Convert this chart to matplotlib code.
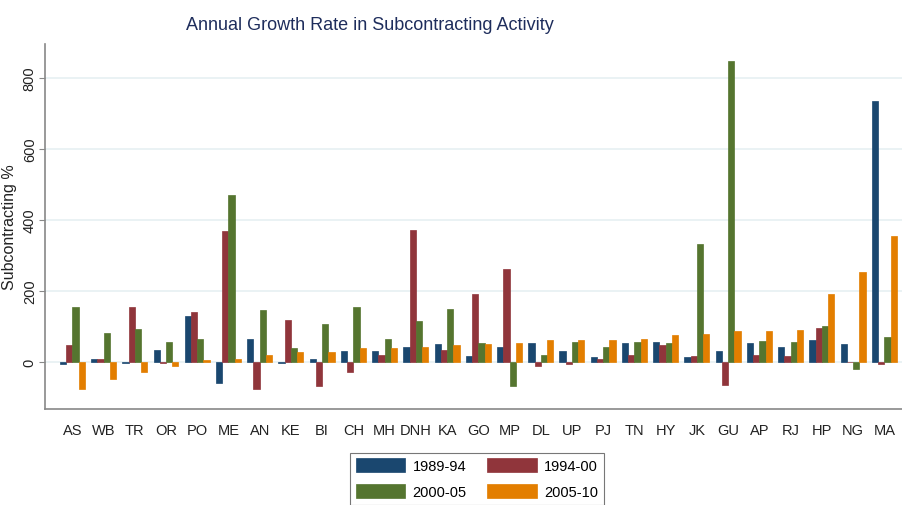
import numpy as np
import matplotlib.pyplot as plt

plt.rcParams['font.family'] = ['Liberation Sans Narrow', 'Liberation Sans', 'DejaVu Sans']

states = ["AS", "WB", "TR", "OR", "PO", "ME", "AN", "KE", "BI", "CH", "MH", "DNH", "KA",
          "GO", "MP", "DL", "UP", "PJ", "TN", "HY", "JK", "GU", "AP", "RJ", "HP", "NG", "MA"]

p1989_94 = [-5, 7, -3, 35, 130, -59, 64, -3, 7, 32, 32, 42, 50,
            17, 42, 54, 32, 14, 54, 57, 15, 31, 54, 43, 61, 51, 735]
p1994_00 = [47, 8, 156, -4, 141, 369, -75, 117, -67, -28, 20, 372, 35,
            192, 262, -11, -5, 8, 20, 49, 16, -64, 20, 17, 96, 0, -5]
p2000_05 = [154, 81, 93, 57, 66, 470, 146, 39, 108, 154, 65, 115, 149,
            52, -67, 20, 57, 41, 55, 54, 333, 848, 60, 55, 100, -19, 71]
p2005_10 = [-77, -47, -29, -12, 6, 8, 19, 27, 28, 39, 40, 42, 47,
            50, 54, 61, 62, 61, 66, 75, 79, 86, 88, 91, 190, 252, 355]

series = [("1989-94", p1989_94, "#1a476f"),
          ("1994-00", p1994_00, "#90353b"),
          ("2000-05", p2000_05, "#55752f"),
          ("2005-10", p2005_10, "#e37e00")]

fig = plt.figure(figsize=(9.03, 5.06), dpi=100)
ax = fig.add_axes([0.050, 0.190, 0.950, 0.721])

x = np.arange(len(states))
w = 0.2
bars = []
for i, (name, vals, col) in enumerate(series):
    b = ax.bar(x + (i - 1.5) * w, vals, width=w, color=col, label=name,
               edgecolor=col, linewidth=0.5, zorder=3)
    bars.append(b)

ax.set_xlim(-0.87, 26.6)
ax.set_ylim(-132, 895)
ax.set_yticks([0, 200, 400, 600, 800])
ax.set_yticklabels(["0", "200", "400", "600", "800"], rotation=90, va='center',
                   fontsize=10.5, color='#222222')
ax.set_xticks(x)
ax.set_xticklabels(states, fontsize=10.5, color='#222222')
ax.tick_params(axis='x', length=0, pad=10)
ax.tick_params(axis='y', length=4, color='#888888', pad=2)
ax.yaxis.grid(True, color='#e6f0f2', linewidth=1.2, zorder=0)
ax.set_axisbelow(True)

for s in ['top', 'right']:
    ax.spines[s].set_visible(False)
for s in ['left', 'bottom']:
    ax.spines[s].set_color('#888888')
    ax.spines[s].set_linewidth(1.2)

ax.set_ylabel("Subcontracting %", fontsize=11.5, color='#222222', labelpad=4)

fig.text(0.41, 0.95, "Annual Growth Rate in Subcontracting Activity",
         ha='center', va='center', fontsize=13, color='#1e2d5c')

# row order: 1989-94, 1994-00 / 2000-05, 2005-10
order = [0, 2, 1, 3]
leg = ax.legend([bars[k] for k in order], [series[k][0] for k in order],
                ncol=2, loc='upper center', bbox_to_anchor=(0.503, -0.10),
                fontsize=10.5, frameon=True, fancybox=False, edgecolor='#555555',
                handlelength=3.4, handleheight=1.1, handletextpad=0.5,
                columnspacing=1.4, borderpad=0.4, labelspacing=0.75)
leg.get_frame().set_linewidth(0.8)

fig.savefig("out.png", dpi=100)
